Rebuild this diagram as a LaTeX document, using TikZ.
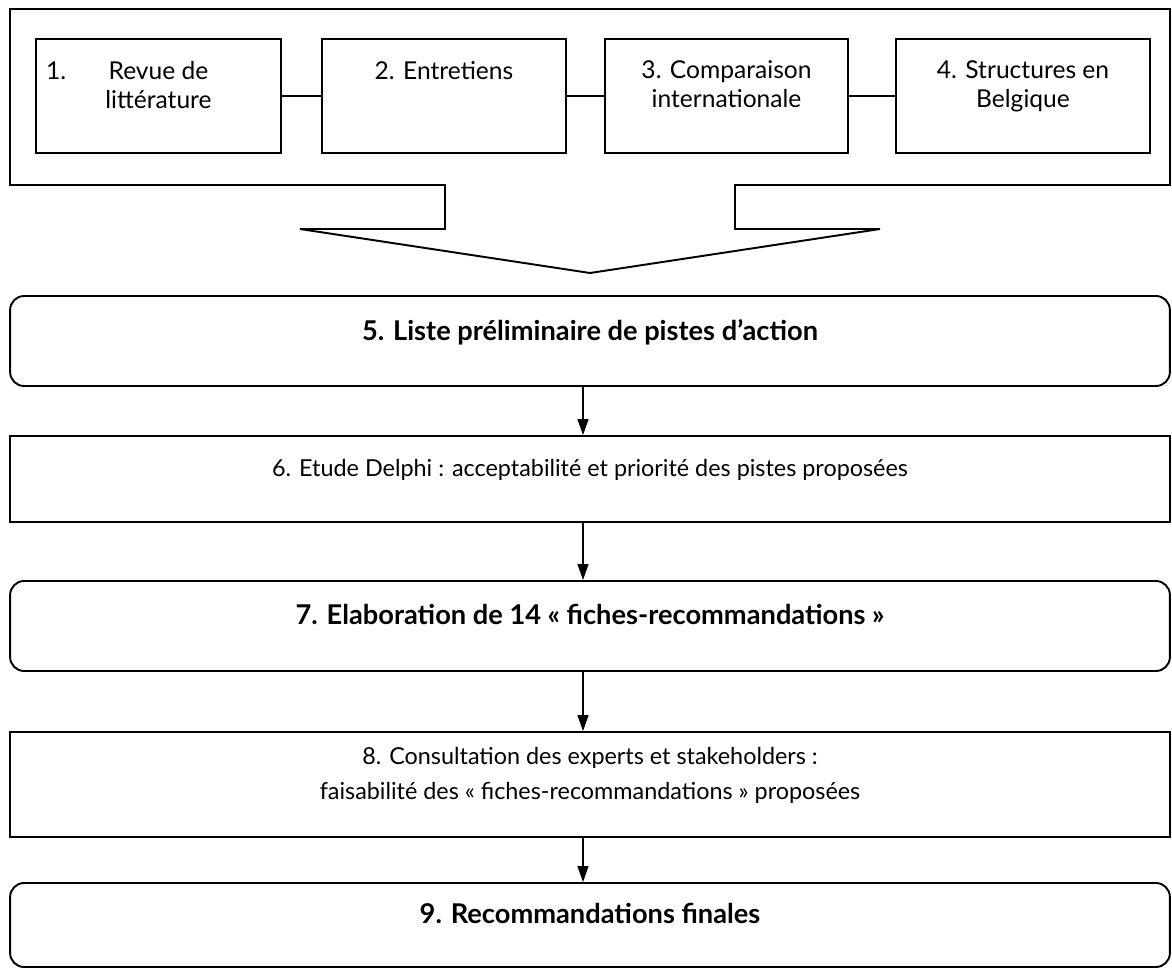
\documentclass[tikz,border=0pt]{standalone}
\usepackage{fontspec}
\setmainfont{Lato}
\usetikzlibrary{arrows.meta,positioning}
\tikzset{
  stepbox/.style = {rectangle, draw, line width=1.1pt, align=center, inner sep=0pt,
                    text depth=0.46cm},
  toprow/.style  = {stepbox, minimum width=4.88cm, minimum height=2.28cm,
                    font=\fontsize{14}{16.5}\selectfont},
  wide/.style    = {stepbox, minimum width=23.2cm, font=\fontsize{13.3}{16}\selectfont},
  softbox/.style = {wide, rounded corners=0.28cm, font=\fontsize{15.5}{18}\selectfont\bfseries},
  link/.style    = {line width=1.1pt},
  flow/.style    = {-{Triangle[length=3.2mm, width=2.2mm]}, line width=0.6pt},
}

\begin{document}
\begin{tikzpicture}[x=0.02cm, y=-0.02cm]
    \useasboundingbox (0,0) rectangle (1172,969);

    % frame round the four sources, ending in the big arrow
    \draw[line width=1.1pt] (10,9) -- (1170,9) -- (1170,185) -- (735,185) -- (735,229)
      -- (880,229) -- (590,273) -- (300,229) -- (445,229) -- (445,185) -- (10,185) -- cycle;

    \node[toprow, minimum width=4.9cm] (lit) at (158.5,96) {\llap{1.\hspace{0.85cm}}Revue de\\littérature};
    \node[toprow] (interviews) at (444,96) {2. Entretiens\\~};
    \node[toprow, minimum width=4.86cm] (intl) at (726.5,96) {3. Comparaison\\internationale};
    \node[toprow, minimum width=5.08cm] (belgium) at (1023,96) {4. Structures en\\Belgique};

    \draw[link] (lit) -- (interviews);
    \draw[link] (interviews) -- (intl);
    \draw[link] (intl) -- (belgium);

    \node[softbox, minimum height=1.8cm] (shortlist) at (590,341) {5. Liste préliminaire de pistes d’action};
    \node[wide, minimum height=1.72cm] (delphi) at (590,479)
      {6. Etude Delphi : acceptabilité et priorité des pistes proposées};
    \node[softbox, minimum height=1.8cm] (sheets) at (590,626)
      {7. Elaboration de 14 «~fiches-recommandations~»};
    \node[wide, minimum height=2.1cm] (consult) at (590,784.5)
      {8. Consultation des experts et stakeholders :\\[4pt]faisabilité des «~fiches-recommandations~» proposées};
    \node[softbox, minimum height=1.68cm] (final) at (590,925) {9. Recommandations finales};

    \draw[flow] ([xshift=-0.14cm]shortlist.south) -- ([xshift=-0.14cm]delphi.north);
    \draw[flow] ([xshift=-0.14cm]delphi.south) -- ([xshift=-0.14cm]sheets.north);
    \draw[flow] ([xshift=-0.14cm]sheets.south) -- ([xshift=-0.14cm]consult.north);
    \draw[flow] ([xshift=-0.14cm]consult.south) -- ([xshift=-0.14cm]final.north);
\end{tikzpicture}
\end{document}
